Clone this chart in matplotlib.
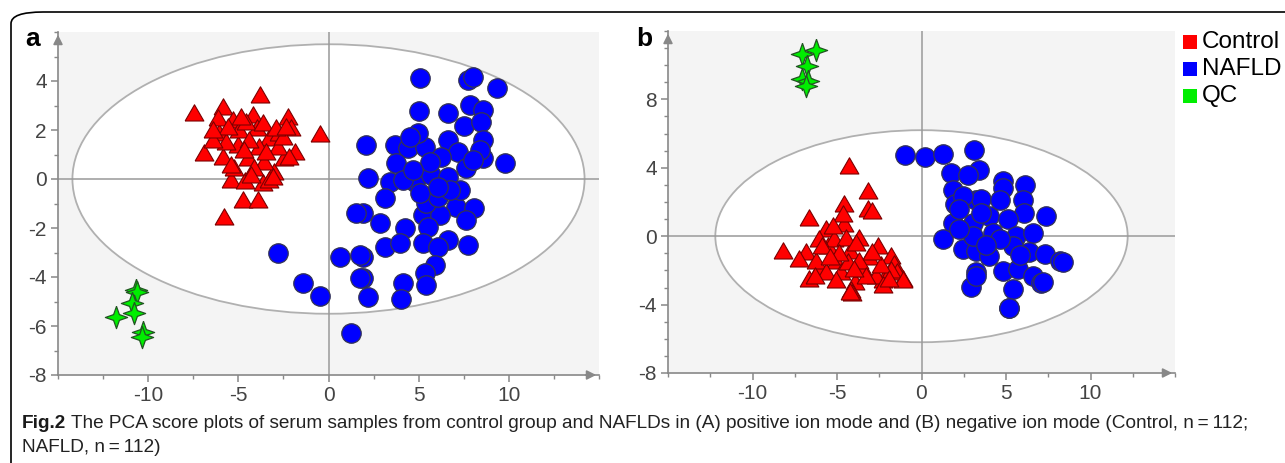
import matplotlib
matplotlib.use("Agg")
import matplotlib.pyplot as plt
from matplotlib.patches import Ellipse, FancyBboxPatch, Rectangle
from matplotlib.ticker import MultipleLocator

plt.rcParams['axes.unicode_minus'] = False
plt.rcParams['font.family'] = ['Liberation Sans Narrow', 'Liberation Sans', 'DejaVu Sans']

# ---- panel a (positive ion mode) ----
a_control_x = [-3.8, -7.44, -5.87, -0.46, -2.26, -2.07, -6.89, -5.78, -4.72, -3.93,
               -5.41, -4.61, -3.65, -3.0, -1.83, -2.44, -5.04, -6.06, -6.15, -5.31,
               -4.2, -3.98, -3.28, -2.81, -4.48, -3.56, -5.87, -5.22, -4.11, -3.28,
               -4.94, -4.57, -3.65, -2.72, -5.69, -6.43, -2.17, -2.54, -5.41, -4.3,
               -3.09, -3.83, -4.85, -5.59, -6.43, -2.91, -2.35, -4.39, -3.46, -4.67]
a_control_y = [3.43, 2.68, 2.95, 1.84, 2.52, 2.07, 1.07, -1.56, -0.86, -0.86,
               -0.04, -0.07, -0.18, 0.3, 1.11, 0.84, 1.39, 1.86, 2.48, 2.41,
               2.61, 2.07, 1.66, 1.32, 0.84, 0.71, 0.91, 0.44, 0.44, -0.04,
               2.0, 2.34, 2.27, 1.86, 1.52, 1.59, 0.91, 1.73, 0.57, 0.16,
               0.1, 1.32, 2.54, 2.13, 1.98, 2.07, 2.13, 1.59, 1.11, 1.18]
a_nafld_x = [5.09, 7.74, 8.02, 9.35, 5.02, 6.63, 7.83, 8.57, 7.5, 8.48,
             8.54, 8.54, 9.78, 2.09, 3.67, 4.41, 5.33, 6.63, 7.19, 6.26,
             3.76, 2.19, 3.39, 4.78, 5.7, 6.63, 7.65, 6.35, 3.11, 7.09,
             8.06, 5.24, 6.17, 1.91, 2.83, 4.22, 5.52, 7.65, 3.11, 3.94,
             5.24, 6.63, 7.74, 6.07, 1.91, 5.89, 5.33, 1.91, 4.13, 5.43,
             2.19, 4.04, 4.96, 4.5, 5.61, 8.39, 8.02, 7.28, 5.43, 6.07,
             4.13, 5.06, 6.74, 4.69, 6.07, 1.54, 0.61, 1.72, 1.72, 1.26,
             -0.46, -1.43, -2.81]
a_nafld_y = [4.11, 4.04, 4.18, 3.7, 2.79, 2.71, 3.02, 2.82, 2.16, 2.34,
             1.59, 0.84, 0.64, 1.39, 1.39, 1.25, 1.32, 1.59, 1.11, 0.91,
             0.64, 0.03, -0.11, -0.11, 0.16, 0.1, 0.44, -0.45, -0.79, -1.13,
             -1.2, -1.47, -1.47, -1.4, -1.81, -2.01, -1.95, -1.67, -2.76, -2.62,
             -2.62, -2.49, -2.69, -2.76, -3.17, -3.51, -3.85, -4.05, -4.26, -4.33,
             -4.8, -4.91, 1.86, 1.73, 0.71, 1.18, 0.78, -0.45, -0.99, -0.72,
             -0.04, -0.58, -0.45, 0.37, -0.31, -1.4, -3.17, -3.1, -4.05, -6.3,
             -4.76, -4.26, -3.03]
a_qc_x = [-10.68, -10.6, -10.91, -10.78, -11.76, -10.28, -10.35]
a_qc_y = [-4.53, -4.6, -5.07, -5.48, -5.62, -6.23, -6.44]

# ---- panel b (negative ion mode) ----
b_control_x = [-4.3, -3.18, -3.18, -2.9, -4.56, -6.67, -8.17, -6.82, -5.64, -4.56,
               -3.67, -2.59, -5.54, -4.26, -5.05, -6.04, -3.08, -1.79, -1.6, -6.63,
               -3.96, -4.16, -2.29, -1.07, -1.46, -6.23, -5.15, -6.04, -4.66, -5.25,
               -4.46, -3.47, -2.68, -7.22, -5.64, -4.75, -1.79, -3.67, -4.36, -5.05,
               -6.33, -2.29, -4.1, -4.26, -1.1, -5.9, -4.9, -3.9, -2.4, -3.3,
               -5.4, -4.0, -2.9, -1.9]
b_control_y = [4.08, 2.63, 1.57, 1.5, 1.86, 1.08, -0.85, -0.95, 0.41, 0.7,
               -0.08, -0.56, -0.56, -0.85, -1.43, -1.91, -1.24, -1.14, -1.62, -2.49,
               -2.69, -3.17, -2.59, -2.49, -2.1, -1.43, -0.17, -0.17, 1.28, 0.6,
               -0.08, -1.91, -2.3, -1.33, -2.1, -2.1, -2.0, -1.43, -1.5, -2.59,
               -2.3, -2.88, -3.3, -3.27, -2.59, -0.6, -1.0, -0.4, -1.7, -2.3,
               -1.2, -1.9, -0.9, -2.5]
b_nafld_x = [-1.0, 0.22, 1.26, 3.1, 3.43, 1.76, 2.74, 1.85, 2.01, 1.85,
             1.26, 2.44, 3.24, 3.5, 4.81, 6.15, 4.81, 5.99, 6.09, 7.38,
             4.02, 3.04, 5.11, 4.22, 5.6, 6.59, 3.24, 4.02, 5.4, 6.39,
             7.28, 8.17, 3.24, 4.81, 5.7, 6.59, 7.08, 2.94, 5.4, 5.17,
             2.44, 3.53, 4.62, 2.2, 3.04, 4.62, 5.8, 3.8, 2.2, 7.18,
             8.36, 3.24, 5.2]
b_nafld_y = [4.75, 4.66, 4.81, 5.04, 3.88, 3.69, 3.59, 2.72, 1.86, 0.79,
             -0.17, -0.75, 2.14, 2.2, 3.21, 3.01, 2.82, 2.14, 1.37, 1.18,
             1.18, 0.79, 0.99, 0.21, 0.02, 0.21, -0.85, -1.14, -0.56, -0.95,
             -1.04, -1.43, -2.1, -2.01, -1.91, -2.3, -2.72, -2.98, -3.07, -4.19,
             2.34, 1.37, 2.14, 1.6, 0.02, -0.17, -1.1, -0.5, 0.4, -2.69,
             -1.49, -2.3, -4.19]
b_qc_x = [-7.06, -6.23, -6.78, -7.06, -6.73, -6.82]
b_qc_y = [10.68, 10.88, 9.97, 9.2, 9.1, 8.81]

a_yticks = [-8, -6, -4, -2, 0, 2, 4]
b_yticks = [-8, -4, 0, 4, 8]
x_ticks = [-10, -5, 0, 5, 10]

groups = ['Control', 'NAFLD', 'QC']
group_colors = ['#ff0000', '#0000ff', '#00ee00']
caption_bold = 'Fig.2'
caption_line1 = ('The PCA score plots of serum samples from control group and NAFLDs in (A) positive '
                 'ion mode and (B) negative ion mode (Control, n\u2009=\u2009112;')
caption_line2 = 'NAFLD, n\u2009=\u2009112)'

tri = [(-1, -0.8), (1, -0.8), (0, 0.93), (-1, -0.8)]
star = [(0, 1), (0.26, 0.26), (1, 0), (0.26, -0.26), (0, -1), (-0.26, -0.26), (-1, 0), (-0.26, 0.26), (0, 1)]

fig = plt.figure(figsize=(12.85, 4.63), dpi=100)

# outer rounded frame
frame = FancyBboxPatch((11 / 1285, -0.2), 1.2, 1.2 - 12 / 463, boxstyle='round,pad=0,rounding_size=0.025',
                       transform=fig.transFigure, fill=False, edgecolor='black', lw=1.2)
fig.patches.append(frame)

axa = fig.add_axes([58 / 1285, 88 / 463, 541 / 1285, 343 / 463])
axb = fig.add_axes([668 / 1285, 90 / 463, 507 / 1285, 342 / 463])


def style_axis(ax, xlim, ylim, yticks, ell):
    ax.set_facecolor('#f4f4f4')
    ax.set_xlim(*xlim)
    ax.set_ylim(*ylim)
    for s in ['top', 'right']:
        ax.spines[s].set_visible(False)
    for s in ['left', 'bottom']:
        ax.spines[s].set_color('#888888')
        ax.spines[s].set_linewidth(1.2)
    ax.set_xticks(x_ticks)
    ax.set_xticklabels([str(t) for t in x_ticks])
    ax.set_yticks(yticks)
    ax.set_yticklabels([str(t) for t in yticks])
    ax.xaxis.set_minor_locator(MultipleLocator(2.5))
    ax.yaxis.set_minor_locator(MultipleLocator(1))
    ax.tick_params(which='both', colors='#888888', labelcolor='#444444', direction='out')
    ax.tick_params(which='major', length=5, width=1.1, labelsize=15, pad=3)
    ax.tick_params(which='minor', length=3, width=1.0)
    ax.add_patch(Ellipse((0, 0), 2 * ell[0], 2 * ell[1], facecolor='white',
                         edgecolor='#b0b0b0', lw=1.3, zorder=1))
    ax.axhline(0, color='#999999', lw=1.1, zorder=2)
    ax.axvline(0, color='#999999', lw=1.1, zorder=2)
    ax.annotate('', xy=(0, 1.0), xytext=(0, 0.96), xycoords='axes fraction',
                arrowprops=dict(arrowstyle='-|>', color='#888888', lw=1.2, mutation_scale=14),
                annotation_clip=False)
    ax.annotate('', xy=(1.0, 0), xytext=(0.97, 0), xycoords='axes fraction',
                arrowprops=dict(arrowstyle='-|>', color='#888888', lw=1.2, mutation_scale=14),
                annotation_clip=False)


def draw_points(ax, cx, cy, nx, ny, qx, qy):
    ax.scatter(qx, qy, marker=star, s=16 ** 2, c=group_colors[2], edgecolors='#225522',
               linewidths=0.9, zorder=3)
    ax.scatter(cx, cy, marker=tri, s=13.5 ** 2, c=group_colors[0], edgecolors='#7a0000',
               linewidths=0.8, zorder=4)
    ax.scatter(nx, ny, marker='o', s=14 ** 2, c=group_colors[1], edgecolors='#333355',
               linewidths=0.9, zorder=5)


style_axis(axa, (-15, 15), (-8, 6), a_yticks, (14.2, 5.5))
draw_points(axa, a_control_x, a_control_y, a_nafld_x, a_nafld_y, a_qc_x, a_qc_y)

style_axis(axb, (-15, 15), (-8, 12), b_yticks, (12.2, 6.2))
draw_points(axb, b_control_x, b_control_y, b_nafld_x, b_nafld_y, b_qc_x, b_qc_y)

# panel letters
fig.text(25 / 1285, 1 - 46 / 463, 'a', fontsize=19, fontweight='bold', family=['Liberation Sans', 'DejaVu Sans'])
fig.text(636 / 1285, 1 - 46 / 463, 'b', fontsize=19, fontweight='bold', family=['Liberation Sans', 'DejaVu Sans'])

# legend
for i, (g, col) in enumerate(zip(groups, group_colors)):
    yc = 42 + 27 * i
    fig.patches.append(Rectangle((1183 / 1285, 1 - (yc + 7) / 463), 14 / 1285, 14 / 463,
                                 transform=fig.transFigure, facecolor=col, edgecolor='none'))
    fig.text(1202 / 1285, 1 - yc / 463, g, fontsize=17.5, va='center', color='black',
             family=['Liberation Sans', 'DejaVu Sans'])

# caption
fig.canvas.draw()
t1 = fig.text(22 / 1285, 1 - 424 / 463, caption_bold, fontsize=13.7, fontweight='bold',
              va='center', color='#1a1a1a')
bb = t1.get_window_extent(renderer=fig.canvas.get_renderer())
fig.text(bb.x1 / 1285 + 5 / 1285, 1 - 424 / 463, caption_line1, fontsize=13.7, va='center', color='#222222')
fig.text(22 / 1285, 1 - 447 / 463, caption_line2, fontsize=13.7, va='center', color='#222222')

fig.savefig('out.png', dpi=100)
